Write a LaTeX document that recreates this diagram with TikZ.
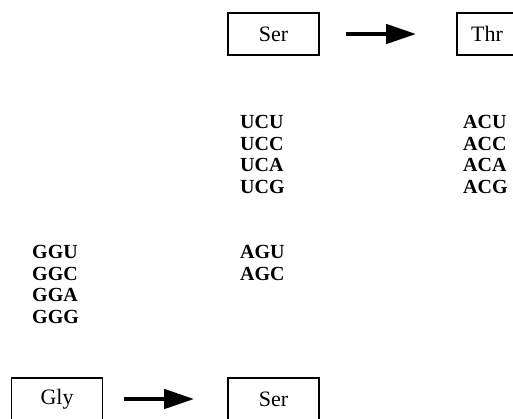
\documentclass[tikz,border=0pt]{standalone}
\usepackage{fontspec}
\setmainfont{Liberation Serif}
\usetikzlibrary{arrows.meta}
\tikzset{
  aabox/.style={draw, line width=1.6pt, minimum width=91pt, minimum height=42pt,
    inner sep=0pt, font=\fontsize{22}{24}\selectfont},
  codon/.style={anchor=west, inner sep=0pt, font=\fontsize{20}{22}\selectfont\bfseries},
  bigarrow/.style={line width=4.5pt, -{Triangle[length=30pt,width=19pt]}}
}
\begin{document}
\begin{tikzpicture}[x=1pt,y=-1pt]
  \clip (0,0) rectangle (513,418);
  % amino-acid boxes
  \node[aabox] (serTop) at (273.5,34) {Ser};
  \node[aabox, minimum width=60pt] (thr) at (487,34) {Thr};
  \node[aabox] (gly) at (57,399) {Gly};
  \node[aabox] (serBot) at (273.5,399) {Ser};
  % substitution arrows
  \draw[bigarrow, shorten <=26pt, shorten >=40pt] (serTop.east) -- (thr.west);
  \draw[bigarrow, shorten <=21pt, shorten >=33pt] (gly.east) -- (serBot.west);
  % serine codons
  \node[codon] (ucu) at (240,122) {UCU};
  \node[codon] (ucc) at (240,143.7) {UCC};
  \node[codon] (uca) at (240,165.3) {UCA};
  \node[codon] (ucg) at (240,187) {UCG};
  \node[codon] (agu) at (240,252) {AGU};
  \node[codon] (agc) at (240,273.5) {AGC};
  % threonine codons
  \node[codon] (acu) at (463,122) {ACU};
  \node[codon] (acc) at (463,143.7) {ACC};
  \node[codon] (aca) at (463,165.3) {ACA};
  \node[codon] (acg) at (463,187) {ACG};
  % glycine codons
  \node[codon] (ggu) at (32,252) {GGU};
  \node[codon] (ggc) at (32,273.5) {GGC};
  \node[codon] (gga) at (32,295) {GGA};
  \node[codon] (ggg) at (32,316.5) {GGG};
\end{tikzpicture}
\end{document}
